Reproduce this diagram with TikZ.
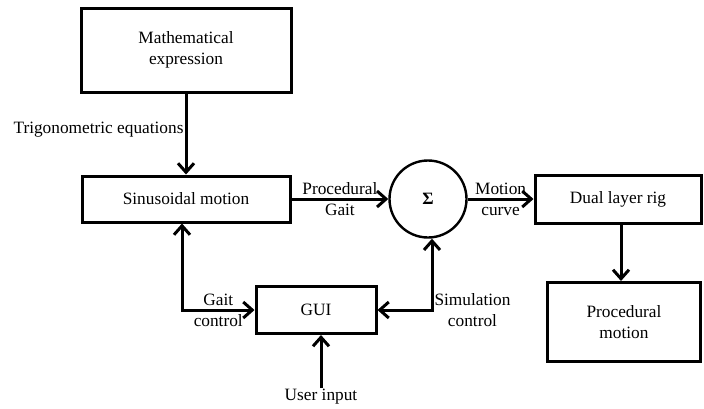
\documentclass[tikz,border=0pt]{standalone}
\usepackage{fontspec}
\setmainfont{Liberation Serif}[Ligatures=TeX]
\usetikzlibrary{arrows.meta}

\begin{document}
\begin{tikzpicture}[x=1pt,y=-1pt,font=\rmfamily\fontsize{17.3}{21}\selectfont,
    blockbox/.style={draw,line width=3pt,align=center,inner sep=2pt},
    sumcirc/.style={draw,circle,line width=2.4pt,minimum size=77pt,inner sep=0pt},
    flow/.style={line width=3pt,-{Straight Barb[length=9pt,width=16pt,line width=3pt]}},
    twoway/.style={line width=3pt,{Straight Barb[length=9pt,width=16pt,line width=3pt]}-{Straight Barb[length=9pt,width=16pt,line width=3pt]}},
    arrowtext/.style={align=center,inner sep=1pt}]
  \useasboundingbox (0,0) rectangle (704,408);
  % blocks
  \node[blockbox,minimum width=210pt,minimum height=84pt] (math) at (186,50) {Mathematical\\expression};
  \node[blockbox,minimum width=208pt,minimum height=46pt] (sin) at (186,199) {Sinusoidal motion};
  \node[sumcirc] (sum) at (428,199) {\textbf{Σ}};
  \node[blockbox,minimum width=166pt,minimum height=48pt] (rig) at (618,199) {Dual layer rig};
  \node[blockbox,minimum width=153pt,minimum height=79pt] (proc) at (624,322) {Procedural\\motion};
  \node[blockbox,minimum width=120pt,minimum height=47pt] (gui) at (316,310) {GUI};
  \node[arrowtext] (user) at (321,397) {User input};
  % connectors
  \draw[flow] (math) -- node[arrowtext,left,pos=0.45] {Trigonometric equations} (sin);
  \draw[flow] (sin) -- node[arrowtext] {Procedural\\Gait} (sum);
  \draw[flow] (sum) -- node[arrowtext] {Motion\\curve} (rig);
  \draw[flow] (rig.south -| 621,0) -- (proc.north -| 621,0);
  \draw[twoway] ([xshift=-4pt]sin.south) |- node[arrowtext,pos=0.75] {Gait\\control} (gui.west);
  \draw[twoway] ([xshift=4pt]sum.south) |- node[arrowtext,right,pos=0.5] {Simulation\\control} (gui.east);
  \draw[flow] (user.north) -- (user.north |- gui.south);
\end{tikzpicture}
\end{document}
